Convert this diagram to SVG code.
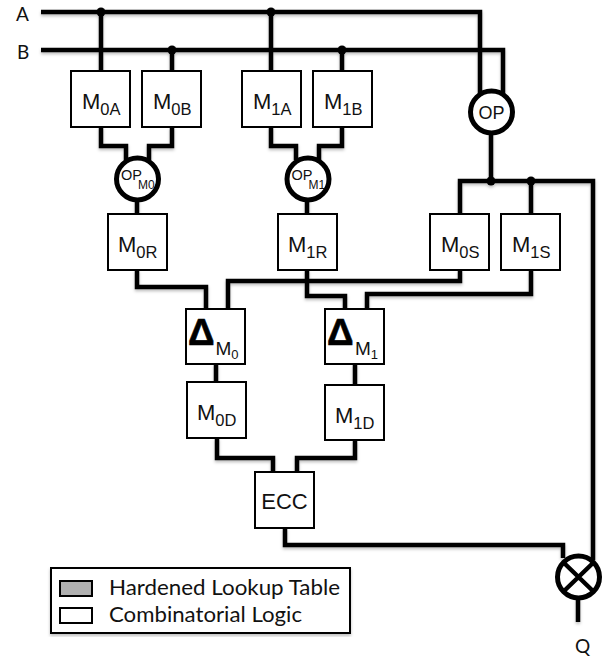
<svg xmlns="http://www.w3.org/2000/svg" width="603" height="659" viewBox="0 0 603 659">
<style>
.w{fill:none;stroke:#000;stroke-width:4.5;stroke-linejoin:miter}
.d{fill:#000;stroke:none}
.b{fill:#fff;stroke:#000;stroke-width:2}
.c{fill:#fff;stroke:#000;stroke-width:5}
.t{font-family:"Liberation Sans",Arial,sans-serif;font-size:22px;fill:#111}
.s{font-size:16.500px}
.o{font-size:14.500px}
.u{font-size:12px}
.m{font-size:19px}
.z{font-size:13px}
.e{font-family:"Liberation Sans",Arial,sans-serif;font-weight:bold;font-size:37px;fill:#000;stroke:#000;stroke-width:.6px}
.l{font-family:Lato,"Open Sans",sans-serif;font-size:20.500px;fill:#111}
.p{font-size:19px}
</style>
<defs><filter id="sh" x="-5%" y="-5%" width="110%" height="110%"><feDropShadow dx="0" dy="2" stdDeviation="1.500" flood-color="#000" flood-opacity="0.25"/></filter></defs>
<rect width="603" height="659" fill="#fff"/>
<g id="connectors" filter="url(#sh)">
<path class="w" d="M41 12H480V95M41 50H503V95"/>
<path class="w" d="M101 12V71M172 50V71M271 12V71M342 50V71"/>
<path class="w" d="M101 127V146H126V160M172 127V146H149V160M271 127V146H296V160M342 127V146H319V160"/>
<path class="w" d="M137 200V214M307 200V214"/>
<path class="w" d="M491 133V181M460 214V181H593V560M531 181V214"/>
<path class="w" d="M460 270V281H228V309M531 270V294H367V309M137 270V287H206V309M307 270V296H345V309"/>
<path class="w" d="M216 364V382M355 364V385"/>
<path class="w" d="M217 438V458H273V472M355 440V458H297V472"/>
<path class="w" d="M285 528V545H563V558M578 598V622"/>
<circle class="d" cx="101" cy="12" r="4.500"/><circle class="d" cx="271" cy="12" r="4.500"/>
<circle class="d" cx="172" cy="50" r="4.500"/><circle class="d" cx="342" cy="50" r="4.500"/>
<circle class="d" cx="491" cy="181" r="4.500"/><circle class="d" cx="531" cy="181" r="4.500"/>
</g>
<g id="M0A"><rect class="b" x="71" y="71" width="59" height="56"/><text class="t" x="82" y="109">M<tspan class="s" dy="6">0A</tspan></text></g>
<g id="M0B"><rect class="b" x="142" y="71" width="59" height="56"/><text class="t" x="153" y="109">M<tspan class="s" dy="6">0B</tspan></text></g>
<g id="M1A"><rect class="b" x="242" y="71" width="59" height="56"/><text class="t" x="253" y="109">M<tspan class="s" dy="6">1A</tspan></text></g>
<g id="M1B"><rect class="b" x="313" y="71" width="59" height="56"/><text class="t" x="324" y="109">M<tspan class="s" dy="6">1B</tspan></text></g>
<g id="OPM0"><circle class="c" cx="137.500" cy="179" r="21"/><text class="t o" x="121" y="180">OP<tspan class="u" dx="-4" dy="8.500">M0</tspan></text></g>
<g id="OPM1"><circle class="c" cx="308" cy="179" r="21"/><text class="t o" x="291.500" y="180">OP<tspan class="u" dx="-4" dy="8.500">M1</tspan></text></g>
<g id="OP"><circle class="c" cx="491.500" cy="112" r="21"/><text class="t" x="491.500" y="119" text-anchor="middle" style="font-size:18px">OP</text></g>
<g id="M0R"><rect class="b" x="108" y="214" width="59" height="56"/><text class="t" x="118" y="252">M<tspan class="s" dy="6">0R</tspan></text></g>
<g id="M1R"><rect class="b" x="278" y="214" width="59" height="56"/><text class="t" x="288" y="252">M<tspan class="s" dy="6">1R</tspan></text></g>
<g id="M0S"><rect class="b" x="430" y="214" width="59" height="56"/><text class="t" x="441" y="252">M<tspan class="s" dy="6">0S</tspan></text></g>
<g id="M1S"><rect class="b" x="501" y="214" width="59" height="56"/><text class="t" x="512" y="252">M<tspan class="s" dy="6">1S</tspan></text></g>
<g id="DM0"><rect class="b" x="186" y="309" width="59" height="55"/><text class="e" x="188" y="345">Δ</text><text class="t m" x="215.500" y="355">M<tspan class="z" dy="4">0</tspan></text></g>
<g id="DM1"><rect class="b" x="325" y="309" width="59" height="55"/><text class="e" x="327" y="345">Δ</text><text class="t m" x="355" y="355">M<tspan class="z" dy="4">1</tspan></text></g>
<g id="M0D"><rect class="b" x="187" y="382" width="59" height="56"/><text class="t" x="197" y="420">M<tspan class="s" dy="6">0D</tspan></text></g>
<g id="M1D"><rect class="b" x="325" y="385" width="59" height="55"/><text class="t" x="335" y="423">M<tspan class="s" dy="6">1D</tspan></text></g>
<g id="ECC"><rect class="b" x="255" y="472" width="59" height="56"/><text class="t" x="284.500" y="509" text-anchor="middle">ECC</text></g>
<g id="XOR"><circle class="c" cx="578.500" cy="577" r="21"/><path class="w" d="M563 562L594 592M594 562L563 592"/></g>
<g id="legend">
<rect class="b" x="51" y="568" width="299" height="65" filter="url(#sh)"/>
<rect x="60" y="581" width="32" height="15" fill="#b0b0b0" stroke="#000" stroke-width="2"/>
<rect x="60" y="608" width="32" height="15" fill="#fff" stroke="#000" stroke-width="2"/>
<text class="l" x="109" y="595" textLength="231" lengthAdjust="spacingAndGlyphs">Hardened Lookup Table</text>
<text class="l" x="109" y="622" textLength="193" lengthAdjust="spacingAndGlyphs">Combinatorial Logic</text>
</g>
<text class="l p" x="16" y="20.500">A</text>
<text class="l p" x="17" y="58.500">B</text>
<text class="l p" x="575" y="653">Q</text>
</svg>
